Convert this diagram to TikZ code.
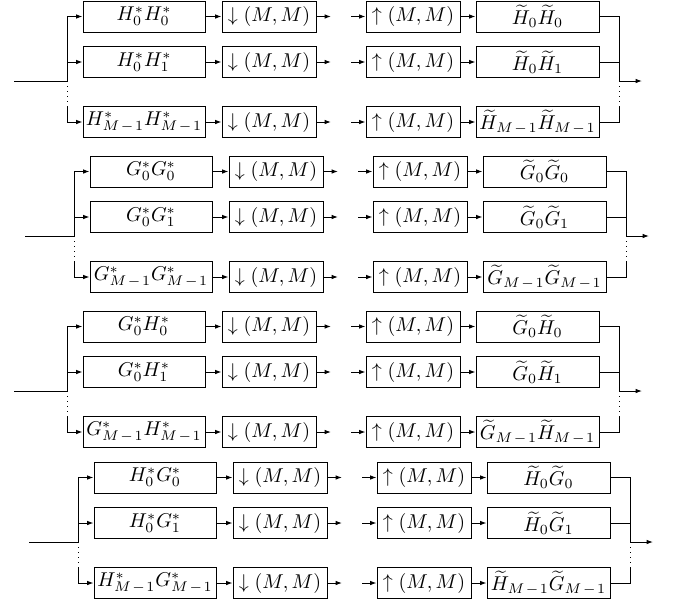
\documentclass[tikz,border=0pt]{standalone}
\usetikzlibrary{arrows.meta,calc}
\tikzset{
  x=0.5pt,y=-0.5pt,
  blk/.style={draw,line width=0.5pt,minimum height=15.5pt,inner sep=0pt,anchor=center},
  filt/.style={blk,minimum width=61pt},
  samp/.style={blk,minimum width=47pt},
  tld/.style={blk,minimum width=61.5pt},
  conn/.style={line width=0.5pt},
  dots/.style={line width=0.5pt,dotted},
  arr/.style={conn,-{Latex[length=3.2pt,width=2.3pt]}},
}
\newcommand\mo{M\kern0.8pt-\kern0.8pt1}
\newcommand\fbank[8]{%
  \node[filt] (#1f1) at (144,16.5) {$#3$};
  \node[filt] (#1f2) at (144,62) {$#4$};
  \node[filt] (#1f3) at (144,122) {$#5$};
  \node[tld] (#1t1) at (537.5,16.5) {$#6$};
  \node[tld] (#1t2) at (537.5,62) {$#7$};
  \node[tld] (#1t3) at (537.5,122) {$#8$};
  \foreach \i/\y in {1/16.5,2/62,3/122}{%
    \node[samp] (#1d\i) at (269,\y) {$\downarrow(M,M)$};
    \node[samp] (#1u\i) at (413,\y) {$\uparrow(M,M)$};
    \coordinate (#1a\i) at (331,\y);
    \coordinate (#1b\i) at (351,\y);
  }
  \coordinate (#1in) at (#2,81);
  \coordinate (#1j) at (67,81);
  \coordinate (#1s) at (619,81);
  \coordinate (#1o) at (642,81);
  \draw[conn] (#1in) -- (#1j);
  \draw[arr] (#1j) |- (#1f1.west);
  \draw[arr] (#1j) |- (#1f2.west);
  \draw[dots] (#1j) -- (#1j |- #1f3.north);
  \draw[arr] (#1j |- #1f3.north) |- (#1f3.west);
  \foreach \i in {1,2,3}{%
    \draw[arr] (#1f\i) -- (#1d\i);
    \draw[arr] (#1d\i) -- (#1a\i);
    \draw[arr] (#1b\i) -- (#1u\i);
    \draw[arr] (#1u\i) -- (#1t\i);
  }
  \draw[conn] (#1t1.east) -| (#1s);
  \draw[conn] (#1t2.east) -| (#1s);
  \draw[dots] (#1s) -- (#1s |- #1t3.north);
  \draw[conn] (#1t3.east) -| (#1s |- #1t3.north);
  \draw[arr] (#1s) -- (#1o);
}
\begin{document}
\begin{tikzpicture}
\useasboundingbox (0,0) rectangle (674,606);
\begin{scope}
\fbank{A}{14}{H_0^*H_0^*}{H_0^*H_1^*}{H_{\mo}^*H_{\mo}^*}{\widetilde{H}_0\widetilde{H}_0}{\widetilde{H}_0\widetilde{H}_1}{\widetilde{H}_{\mo}\widetilde{H}_{\mo}}
\end{scope}
\begin{scope}[shift={(7,155)}]
\fbank{B}{18}{G_0^*G_0^*}{G_0^*G_1^*}{G_{\mo}^*G_{\mo}^*}{\widetilde{G}_0\widetilde{G}_0}{\widetilde{G}_0\widetilde{G}_1}{\widetilde{G}_{\mo}\widetilde{G}_{\mo}}
\end{scope}
\begin{scope}[shift={(0,310)}]
\fbank{C}{14}{G_0^*H_0^*}{G_0^*H_1^*}{G_{\mo}^*H_{\mo}^*}{\widetilde{G}_0\widetilde{H}_0}{\widetilde{G}_0\widetilde{H}_1}{\widetilde{G}_{\mo}\widetilde{H}_{\mo}}
\end{scope}
\begin{scope}[shift={(11,461)}]
\fbank{D}{18}{H_0^*G_0^*}{H_0^*G_1^*}{H_{\mo}^*G_{\mo}^*}{\widetilde{H}_0\widetilde{G}_0}{\widetilde{H}_0\widetilde{G}_1}{\widetilde{H}_{\mo}\widetilde{G}_{\mo}}
\end{scope}
\end{tikzpicture}
\end{document}
